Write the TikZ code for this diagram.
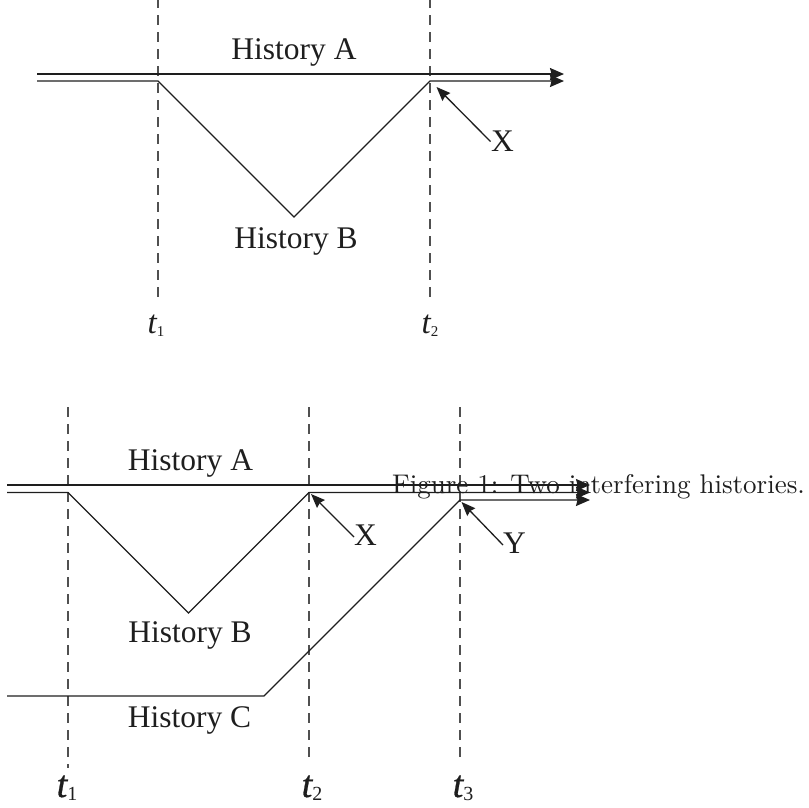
\documentclass[tikz,border=0pt]{standalone}
\usepackage{fontspec}
\usetikzlibrary{arrows.meta}
\newfontfamily\histfont{Liberation Serif}
\newfontfamily\titfont{Liberation Serif Italic}
\newfontfamily\tbfont[FakeBold=0.8]{Liberation Serif Italic}
\newfontfamily\capfont{lmroman10-regular.otf}
\definecolor{ink}{HTML}{1E1E1E}
\definecolor{dashink}{HTML}{505050}
\begin{document}
\begin{tikzpicture}[x=1pt,y=-1pt,
  hist/.style={font=\fontsize{31.5}{36}\selectfont\histfont, text=ink, inner sep=0pt, anchor=base},
  tsmall/.style={font=\fontsize{33}{36}\selectfont\titfont, text=ink, inner sep=0pt, anchor=base},
  tbig/.style={font=\fontsize{38}{40}\selectfont\tbfont, text=ink, inner sep=0pt, anchor=base},
  captext/.style={font=\fontsize{27}{30}\selectfont\capfont, text=ink, inner sep=0pt, anchor=base west},
  tline/.style={dashink, line width=1.2pt, dash pattern=on 10pt off 7pt},
  wl/.style={ink, line width=1.3pt, line join=miter},
  arr/.style={-{Stealth[length=14pt,width=12pt,inset=1.5pt]}},
  ptr/.style={ink, line width=1.3pt, -{Stealth[length=14pt,width=11pt,inset=1.5pt]}}
]
\useasboundingbox (0,0) rectangle (809,807);

% ---------- top figure ----------
\coordinate (Ta0) at (37,74);   \coordinate (Ta1) at (564,74);
\coordinate (Tb0) at (37,81);   \coordinate (Tb1) at (158,81);
\coordinate (Tb2) at (294,217); \coordinate (Tb3) at (430,81);
\coordinate (Tb4) at (564,81);
\coordinate (Td1a) at (158,-2); \coordinate (Td1b) at (158,300);
\coordinate (Td2a) at (430,-2); \coordinate (Td2b) at (430,300);
\coordinate (Txs) at (490.5,141.5); \coordinate (Txe) at (436.5,87);

\draw[tline] (Td1a) -- (Td1b);
\draw[tline] (Td2a) -- (Td2b);
\draw[wl,arr] (Ta0) -- (Ta1);
\draw[wl,arr] (Tb0) -- (Tb1) -- (Tb2) -- (Tb3) -- (Tb4);
\draw[ptr] (Txs) -- (Txe);

\node[hist] (ThA) at (294,59) {History A};
\node[hist] (ThB) at (296,248) {History B};
\node[hist] (TX) at (502.5,151) {X};
\node[tsmall] (Tt1) at (156,333) {t\raisebox{-3pt}{\fontsize{15}{17}\selectfont\histfont 1}};
\node[tsmall] (Tt2) at (430,333) {t\raisebox{-3pt}{\fontsize{15}{17}\selectfont\histfont 2}};

% ---------- bottom figure ----------
\coordinate (Ba0) at (7,485);     \coordinate (Ba1) at (590,485);
\coordinate (Bb0) at (7,492.5);   \coordinate (Bb1) at (68,492.5);
\coordinate (Bb2) at (188.5,613); \coordinate (Bb3) at (309,492.5);
\coordinate (Bb4) at (590,492.5);
\coordinate (Bc0) at (7,696);     \coordinate (Bc1) at (264,696);
\coordinate (Bc2) at (460,500);   \coordinate (Bc3) at (590,500);
\coordinate (Bd1a) at (68,407);   \coordinate (Bd1b) at (68,768);
\coordinate (Bd2a) at (309,407);  \coordinate (Bd2b) at (309,760);
\coordinate (Bd3a) at (460,407);  \coordinate (Bd3b) at (460,760);
\coordinate (Bxs) at (354,537);   \coordinate (Bxe) at (311,494);
\coordinate (Bys) at (503,545);   \coordinate (Bye) at (461.5,502);

\draw[tline] (Bd1a) -- (Bd1b);
\draw[tline] (Bd2a) -- (Bd2b);
\draw[tline] (Bd3a) -- (Bd3b);
\draw[wl,arr] (Ba0) -- (Ba1);
\draw[wl,arr] (Bb0) -- (Bb1) -- (Bb2) -- (Bb3) -- (Bb4);
\draw[wl,arr] (Bc0) -- (Bc1) -- (Bc2) -- (Bc3);
\draw[ptr] (Bxs) -- (Bxe);
\draw[ptr] (Bys) -- (Bye);

\node[hist] (BhA) at (190.5,470) {History A};
\node[hist] (BhB) at (190,642) {History B};
\node[hist] (BhC) at (189.5,727.5) {History C};
\node[hist] (BX) at (365.5,545) {X};
\node[hist] (BY) at (514.5,553) {Y};
\node[tbig] (Bt1) at (67,797) {t\raisebox{-3pt}{\fontsize{20}{22}\selectfont\histfont 1}};
\node[tbig] (Bt2) at (312,797) {t\raisebox{-3pt}{\fontsize{20}{22}\selectfont\histfont 2}};
\node[tbig] (Bt3) at (463,797) {t\raisebox{-3pt}{\fontsize{20}{22}\selectfont\histfont 3}};

\node[captext] (Cap) at (392,493) {Figure 1: Two interfering histories.};
\end{tikzpicture}
\end{document}
